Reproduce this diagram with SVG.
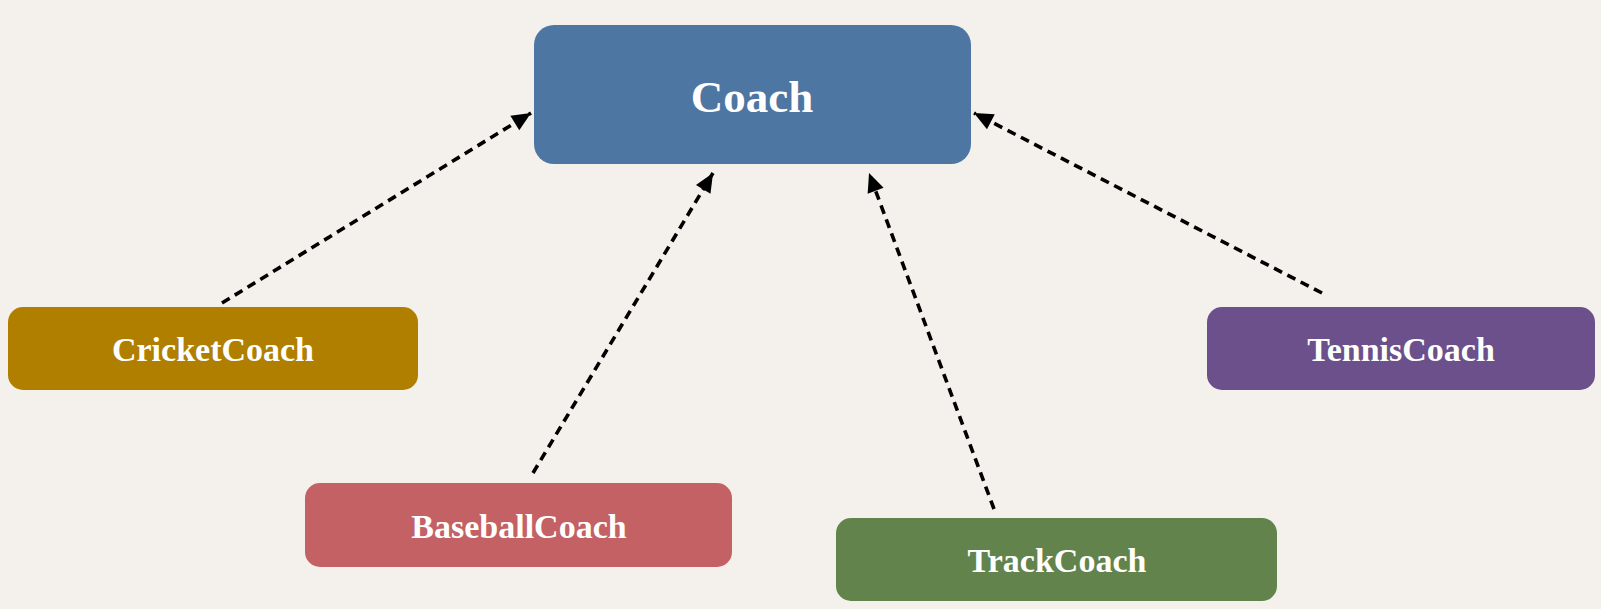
<svg xmlns="http://www.w3.org/2000/svg" width="1601" height="609" viewBox="0 0 1601 609">
<defs>
<style>
.lbl{font-family:"Palatino Linotype","Book Antiqua",Palatino,"Liberation Serif",serif;font-weight:bold;fill:#ffffff;text-anchor:middle}
.edge{stroke:#000;stroke-width:3.6;stroke-dasharray:9 6;fill:none}
</style>
<marker id="arr" markerUnits="userSpaceOnUse" markerWidth="24" markerHeight="24" viewBox="0 0 24 24" refX="21" refY="12" orient="auto">
<path d="M2,3.5 L21,12 L2,20.5 Z" fill="#000"/>
</marker>
</defs>
<rect width="1601" height="609" fill="#f4f1ec"/>
<g id="connectors">
<line class="edge" x1="222" y1="303" x2="531" y2="113" marker-end="url(#arr)"/>
<line class="edge" x1="533" y1="473" x2="713" y2="173" marker-end="url(#arr)"/>
<line class="edge" x1="994" y1="509" x2="869" y2="173" marker-end="url(#arr)"/>
<line class="edge" x1="1322" y1="293" x2="974" y2="113" marker-end="url(#arr)"/>
</g>
<g id="coach">
<rect x="534" y="25" width="437" height="139" rx="20" fill="#4d76a3"/>
<text class="lbl" x="752" y="112" font-size="45">Coach</text>
</g>
<g id="cricket">
<rect x="8" y="307" width="410" height="83" rx="15" fill="#b07f00"/>
<text class="lbl" x="213" y="361" font-size="34">CricketCoach</text>
</g>
<g id="baseball">
<rect x="305" y="483" width="427" height="84" rx="15" fill="#c36164"/>
<text class="lbl" x="519" y="538" font-size="34">BaseballCoach</text>
</g>
<g id="track">
<rect x="836" y="518" width="441" height="83" rx="15" fill="#62844c"/>
<text class="lbl" x="1057" y="572" font-size="34">TrackCoach</text>
</g>
<g id="tennis">
<rect x="1207" y="307" width="388" height="83" rx="15" fill="#6b508b"/>
<text class="lbl" x="1401" y="361" font-size="34">TennisCoach</text>
</g>
</svg>
